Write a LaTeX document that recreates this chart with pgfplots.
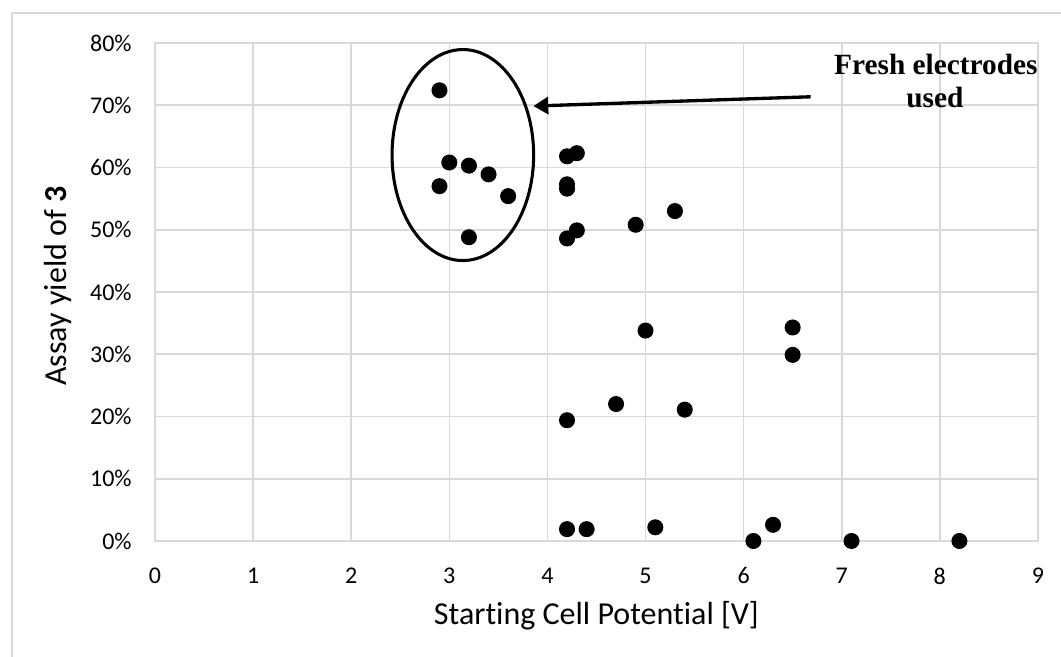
\documentclass[border=0pt]{standalone}
\usepackage{fontspec}
\setmainfont[Ligatures=NoCommon]{Carlito}
\newfontfamily\annfont{Liberation Serif}
\usepackage{pgfplots}
\pgfplotsset{compat=1.18}
\usetikzlibrary{arrows.meta}
\definecolor{gridgray}{RGB}{217,217,217}

\begin{document}
\begin{tikzpicture}
  % page size: 1061x657 px at 0.375pt/px, axis lower left at origin
  \useasboundingbox (-58.125pt,-43.5pt) rectangle (339.75pt,202.875pt);
  \draw[gridgray, line width=0.75pt] (-53.6pt,-60pt) rectangle (360pt,198pt);
  \begin{axis}[
      at={(0,0)}, anchor=origin,
      scale only axis,
      width=331.1pt, height=186.75pt,
      xmin=0, xmax=9, ymin=0, ymax=80,
      xtick={0,1,...,9},
      ytick={0,10,...,80},
      yticklabel={\pgfmathprintnumber{\tick}\%},
      /pgf/number format/assume math mode=true,
      major tick length=0pt,
      grid=major,
      grid style={gridgray, line width=0.6pt},
      axis line style={gridgray, line width=0.6pt},
      tick label style={font=\fontsize{9}{10}\selectfont, black},
      xticklabel style={yshift=-6.5pt},
      yticklabel style={xshift=-5.25pt},
      xlabel={Starting Cell Potential [V]},
      ylabel={Assay yield of \textbf{3}},
      label style={font=\fontsize{12}{14}\selectfont},
      xlabel style={at={(axis description cs:0.5,-0.1687)}, anchor=base},
      ylabel style={at={(axis description cs:-0.0997,0.512)}, anchor=base},
      clip=false,
    ]
    \addplot[only marks, mark=*, mark size=2.8pt, black] coordinates {
      (2.9,72.4) (3.0,60.8) (3.2,60.3) (3.4,58.9) (2.9,57.0) (3.6,55.4) (3.2,48.8)
      (4.2,61.8) (4.3,62.3) (4.2,57.3) (4.2,56.6) (5.3,53.0) (4.9,50.8) (4.3,49.9)
      (4.2,48.6) (5.0,33.8) (6.5,34.3) (6.5,29.9) (4.7,22.0) (5.4,21.1) (4.2,19.4)
      (4.2,1.9) (4.4,1.9) (5.1,2.2) (6.1,0) (6.3,2.6) (7.1,0) (8.2,0)
    };
    % annotation
    \draw[black, line width=1.15pt] (axis cs:3.138,62.0) ellipse [x radius=26.55pt, y radius=39.56pt];
    \draw[black, line width=1.25pt, -{Triangle[length=5.6pt,width=6.4pt]}]
      (axis cs:6.684,71.36) -- (axis cs:3.857,69.87);
    \node[anchor=base, font=\annfont\bfseries\fontsize{11}{12}\selectfont, inner sep=0pt]
      at (axis cs:7.96,74.88) {Fresh electrodes};
    \node[anchor=base, font=\annfont\bfseries\fontsize{11}{12}\selectfont, inner sep=0pt]
      at (axis cs:7.95,69.6) {used};
  \end{axis}
\end{tikzpicture}
\end{document}
